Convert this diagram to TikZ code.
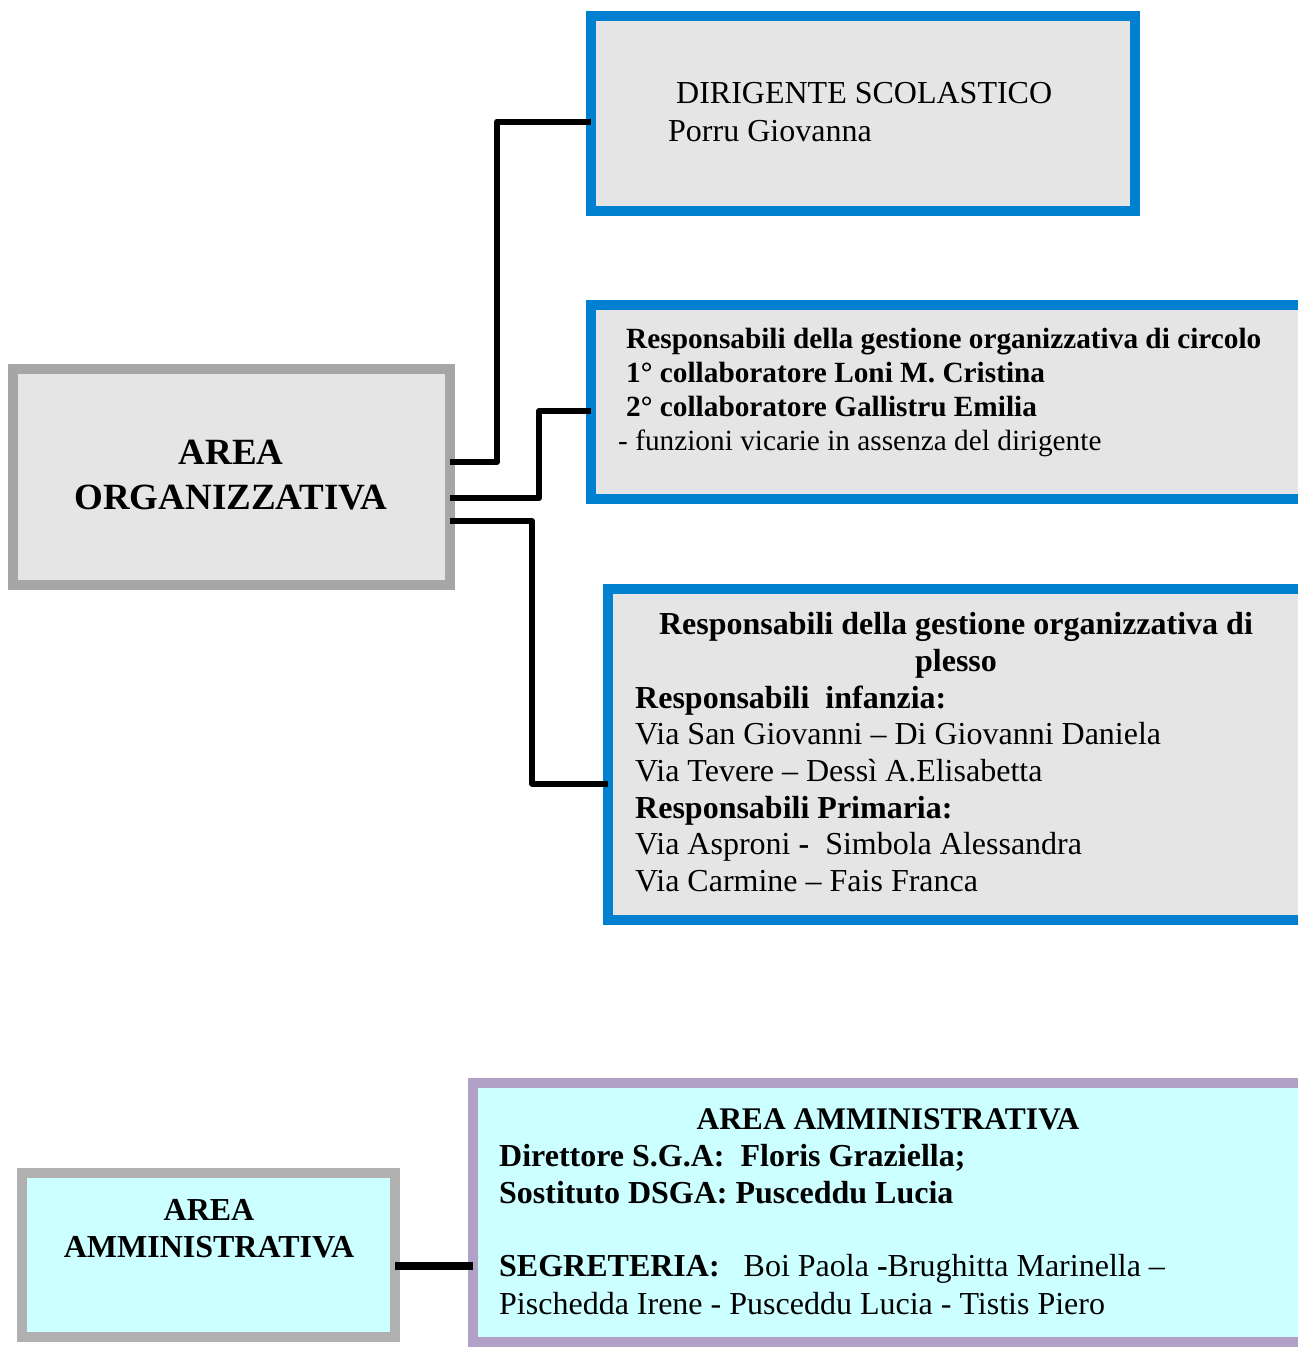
\documentclass[tikz,border=0pt]{standalone}
\usepackage{fontspec}
\setmainfont{Liberation Serif}
\definecolor{boxblue}{RGB}{0,128,208}
\definecolor{boxgray}{RGB}{229,229,229}
\definecolor{edgegray}{RGB}{166,166,166}
\definecolor{edgegrayb}{RGB}{176,176,176}
\definecolor{paleblue}{RGB}{204,255,255}
\definecolor{lavender}{RGB}{178,161,199}
\begin{document}
\begin{tikzpicture}[x=1pt,y=-1pt,
	box/.style={draw,line width=10pt,inner sep=0pt,outer sep=0pt},
	link/.style={line width=6pt,line join=round},
	txt/.style={inner sep=0pt,anchor=base west}]
	\clip (0,0) rectangle (1298,1347);
	% boxes
	\node[box,draw=edgegray,fill=boxgray,minimum width=437,minimum height=216] (org) at (231.5,477) {};
	\node[box,draw=boxblue,fill=boxgray,minimum width=544,minimum height=195] (ds) at (863,113.5) {};
	\node[box,draw=boxblue,fill=boxgray,minimum width=719,minimum height=194] (circ) at (950.5,402) {};
	\node[box,draw=boxblue,fill=boxgray,minimum width=702,minimum height=331] (ples) at (959,754.5) {};
	\node[box,draw=edgegrayb,fill=paleblue,minimum width=373,minimum height=164] (amml) at (208.5,1255) {};
	\node[box,draw=lavender,fill=paleblue,minimum width=837,minimum height=259] (ammr) at (891.5,1212.5) {};
	% connectors
	\draw[link] ([yshift=15pt]org.east) -- ++(47,0) |- ([yshift=-8pt]ds.west);
	\draw[link] ([yshift=-21pt]org.east) -- ++(89,0) |- ([yshift=-9pt]circ.west);
	\draw[link] ([yshift=-44pt]org.east) -- ++(82,0) |- ([yshift=-29pt]ples.west);
	\draw[line width=8pt] ([yshift=-11pt]amml.east) -- ([yshift=-11pt]amml.east -| ammr.west);
	% area organizzativa
	\node[txt,anchor=base,font=\bfseries\fontsize{37}{45}\selectfont] (org1) at (231,464) {AREA};
	\node[txt,anchor=base,font=\bfseries\fontsize{37}{45}\selectfont] (org2) at (231,509) {ORGANIZZATIVA};
	% dirigente
	\node[txt,font=\fontsize{32}{38}\selectfont] (ds1) at (676,103) {DIRIGENTE SCOLASTICO};
	\node[txt,font=\fontsize{32}{38}\selectfont] (ds2) at (668,141) {Porru Giovanna};
	% circolo
	\node[txt,font=\bfseries\fontsize{29.3}{34}\selectfont] (circ1) at (626,348) {Responsabili della gestione organizzativa di circolo};
	\node[txt,font=\bfseries\fontsize{29.3}{34}\selectfont] (circ2) at (626,382) {1° collaboratore Loni M. Cristina};
	\node[txt,font=\bfseries\fontsize{29.3}{34}\selectfont] (circ3) at (626,416) {2° collaboratore Gallistru Emilia};
	\node[txt,font=\fontsize{29.3}{34}\selectfont] (circ4) at (618,450) {- funzioni vicarie in assenza del dirigente};
	% plesso
	\node[txt,anchor=base,font=\bfseries\fontsize{32}{37}\selectfont] (ples1) at (956,634.5) {Responsabili della gestione organizzativa di};
	\node[txt,anchor=base,font=\bfseries\fontsize{32}{37}\selectfont] (ples2) at (956,671.5) {plesso};
	\node[txt,font=\bfseries\fontsize{32}{37}\selectfont] (ples3) at (635,708.5) {Responsabili\ \ infanzia:};
	\node[txt,font=\fontsize{32}{37}\selectfont] (ples4) at (635,744.5) {Via San Giovanni – Di Giovanni Daniela};
	\node[txt,font=\fontsize{32}{37}\selectfont] (ples5) at (635,781.5) {Via Tevere – Dessì A.Elisabetta};
	\node[txt,font=\bfseries\fontsize{32}{37}\selectfont] (ples6) at (635,818.5) {Responsabili Primaria:};
	\node[txt,font=\fontsize{32}{37}\selectfont] (ples7) at (635,854.5) {Via Asproni \textbf{-}\ \ Simbola Alessandra};
	\node[txt,font=\fontsize{32}{37}\selectfont] (ples8) at (635,891.5) {Via Carmine – Fais Franca};
	% area amministrativa
	\node[txt,anchor=base,font=\bfseries\fontsize{32}{37}\selectfont] (amml1) at (209,1220) {AREA};
	\node[txt,anchor=base,font=\bfseries\fontsize{32}{37}\selectfont] (amml2) at (209,1257) {AMMINISTRATIVA};
	\node[txt,anchor=base,font=\bfseries\fontsize{31.5}{37}\selectfont] (ammr1) at (888,1129.5) {AREA AMMINISTRATIVA};
	\node[txt,font=\bfseries\fontsize{32}{37}\selectfont] (ammr2) at (499,1166.5) {Direttore S.G.A:\ \ Floris Graziella;};
	\node[txt,font=\bfseries\fontsize{32}{37}\selectfont] (ammr3) at (499,1203.5) {Sostituto DSGA: Pusceddu Lucia};
	\node[txt,font=\fontsize{32}{37}\selectfont] (ammr4) at (499,1276.5) {\textbf{SEGRETERIA:}\ \ \ Boi Paola \textbf{-}Brughitta Marinella –};
	\node[txt,font=\fontsize{32}{37}\selectfont] (ammr5) at (499,1314.5) {Pischedda Irene - Pusceddu Lucia - Tistis Piero};
\end{tikzpicture}
\end{document}
